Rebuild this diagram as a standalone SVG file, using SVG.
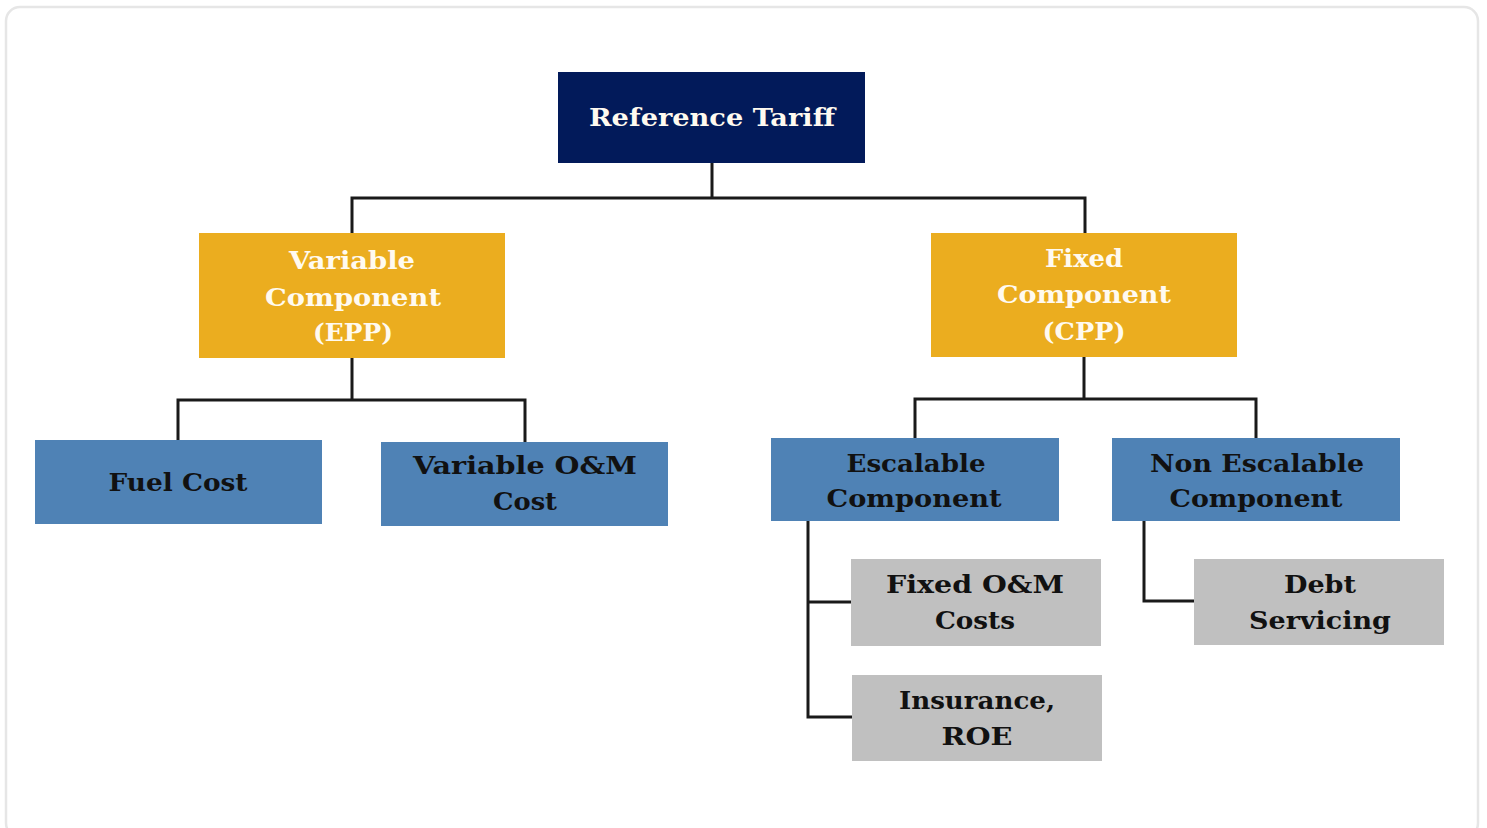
<svg xmlns="http://www.w3.org/2000/svg" width="1487" height="828" viewBox="0 0 1487 828">
<style>
.frame{fill:#fff;stroke:#e6e6e6;stroke-width:2.5}
.navy{fill:#021a5a}
.gold{fill:#ebad1f}
.blue{fill:#4f82b5}
.gray{fill:#c0c0c0}
text{font-family:"DejaVu Serif","Liberation Serif",serif;font-weight:bold;font-size:24px;text-anchor:middle}
.lt{fill:#fffaf0}
.dk{fill:#111111}
.conn{fill:none;stroke:#1a1a1a;stroke-width:3}
</style>
<rect x="0" y="0" width="1487" height="828" fill="#ffffff"/>
<rect class="frame" x="6" y="7" width="1472" height="830" rx="14"/>
<g id="connectors">
<path class="conn" d="M712,163 V198 M352,233 V198 H1085 V233"/>
<path class="conn" d="M352,358 V400 M178,440 V400 H525 V442"/>
<path class="conn" d="M1084,357 V399 M915,438 V399 H1256 V438"/>
<path class="conn" d="M808,521 V717 H852 M808,602 H852"/>
<path class="conn" d="M1144,521 V601 H1194"/>
</g>
<g id="reference-tariff">
<rect class="navy" x="558" y="72" width="307" height="91"/>
<text class="lt" x="712" y="126" textLength="246" lengthAdjust="spacingAndGlyphs">Reference Tariff</text>
</g>
<g id="variable-component">
<rect class="gold" x="199" y="233" width="306" height="125"/>
<text class="lt" x="352" y="269" textLength="126" lengthAdjust="spacingAndGlyphs">Variable</text>
<text class="lt" x="353" y="306" textLength="176" lengthAdjust="spacingAndGlyphs">Component</text>
<text class="lt" x="353" y="341" textLength="80" lengthAdjust="spacingAndGlyphs">(EPP)</text>
</g>
<g id="fixed-component">
<rect class="gold" x="931" y="233" width="306" height="124"/>
<text class="lt" x="1084" y="267" textLength="78" lengthAdjust="spacingAndGlyphs">Fixed</text>
<text class="lt" x="1084" y="303" textLength="174" lengthAdjust="spacingAndGlyphs">Component</text>
<text class="lt" x="1084" y="340" textLength="83" lengthAdjust="spacingAndGlyphs">(CPP)</text>
</g>
<g id="fuel-cost">
<rect class="blue" x="35" y="440" width="287" height="84"/>
<text class="dk" x="178" y="491" textLength="139" lengthAdjust="spacingAndGlyphs">Fuel Cost</text>
</g>
<g id="variable-om-cost">
<rect class="blue" x="381" y="442" width="287" height="84"/>
<text class="dk" x="525" y="474" textLength="224" lengthAdjust="spacingAndGlyphs">Variable O&amp;M</text>
<text class="dk" x="525" y="510" textLength="64" lengthAdjust="spacingAndGlyphs">Cost</text>
</g>
<g id="escalable-component">
<rect class="blue" x="771" y="438" width="288" height="83"/>
<text class="dk" x="916" y="472" textLength="139" lengthAdjust="spacingAndGlyphs">Escalable</text>
<text class="dk" x="914" y="507" textLength="175" lengthAdjust="spacingAndGlyphs">Component</text>
</g>
<g id="non-escalable-component">
<rect class="blue" x="1112" y="438" width="288" height="83"/>
<text class="dk" x="1257" y="472" textLength="214" lengthAdjust="spacingAndGlyphs">Non Escalable</text>
<text class="dk" x="1256" y="507" textLength="173" lengthAdjust="spacingAndGlyphs">Component</text>
</g>
<g id="fixed-om-costs">
<rect class="gray" x="851" y="559" width="250" height="87"/>
<text class="dk" x="975" y="593" textLength="178" lengthAdjust="spacingAndGlyphs">Fixed O&amp;M</text>
<text class="dk" x="975" y="629" textLength="80" lengthAdjust="spacingAndGlyphs">Costs</text>
</g>
<g id="insurance-roe">
<rect class="gray" x="852" y="675" width="250" height="86"/>
<text class="dk" x="977" y="709" textLength="156" lengthAdjust="spacingAndGlyphs">Insurance,</text>
<text class="dk" x="977" y="745" textLength="71" lengthAdjust="spacingAndGlyphs">ROE</text>
</g>
<g id="debt-servicing">
<rect class="gray" x="1194" y="559" width="250" height="86"/>
<text class="dk" x="1320" y="593" textLength="72" lengthAdjust="spacingAndGlyphs">Debt</text>
<text class="dk" x="1320" y="629" textLength="142" lengthAdjust="spacingAndGlyphs">Servicing</text>
</g>
</svg>
